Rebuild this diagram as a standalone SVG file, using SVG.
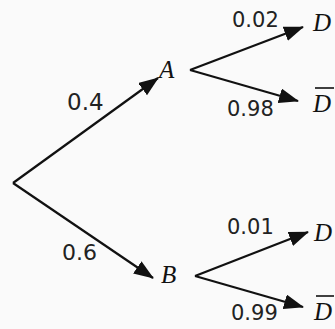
<svg xmlns="http://www.w3.org/2000/svg" width="335" height="329" viewBox="0 0 335 329">
<style>
.e{stroke:#111;stroke-width:2.2;fill:none;marker-end:url(#ah)}
.p{font-family:"DejaVu Sans","Liberation Sans",sans-serif;fill:#222}
.v{font-family:"Liberation Serif","Times New Roman",serif;font-style:italic;fill:#111;font-size:25px}
.bar{stroke:#111;stroke-width:1.6}
</style>
<defs>
<marker id="ah" markerUnits="userSpaceOnUse" markerWidth="22" markerHeight="16" refX="19" refY="7.5" orient="auto">
<path d="M0,0 L20,7.5 L0,15 z" fill="#111"/>
</marker>
</defs>
<rect width="335" height="329" fill="#fafafa"/>
<g id="connectors">
<line class="e" x1="13" y1="183" x2="158" y2="78"/>
<line class="e" x1="13" y1="183" x2="153" y2="278"/>
<line class="e" x1="190" y1="70" x2="303" y2="27"/>
<line class="e" x1="190" y1="70" x2="298" y2="101"/>
<line class="e" x1="195" y1="276" x2="308" y2="232"/>
<line class="e" x1="195" y1="276" x2="303" y2="307"/>
</g>
<g id="labels">
<text class="p" x="67" y="110" font-size="23">0.4</text>
<text class="p" x="62" y="260" font-size="22">0.6</text>
<text class="p" x="232" y="27" font-size="21">0.02</text>
<text class="p" x="227" y="116" font-size="21">0.98</text>
<text class="p" x="227" y="234" font-size="21">0.01</text>
<text class="p" x="231" y="320" font-size="21">0.99</text>
</g>
<g id="nodeA"><text class="v" x="159" y="78">A</text></g>
<g id="nodeB"><text class="v" x="161" y="283">B</text></g>
<g id="nodeAD"><text class="v" x="313" y="31">D</text></g>
<g id="nodeADbar"><text class="v" x="313" y="112">D</text><line class="bar" x1="315" y1="88" x2="334" y2="88"/></g>
<g id="nodeBD"><text class="v" x="314" y="241">D</text></g>
<g id="nodeBDbar"><text class="v" x="314" y="320">D</text><line class="bar" x1="316" y1="296" x2="334" y2="296"/></g>
</svg>
